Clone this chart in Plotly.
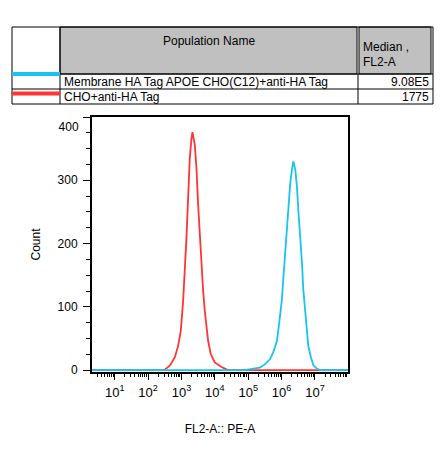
import plotly.graph_objects as go

# histogram data (x as log10 of FL2-A, y as count)
red_log = [0.32, 2.48, 2.65, 2.80, 2.90, 2.98, 3.05, 3.10, 3.15, 3.20, 3.25, 3.30, 3.33,
           3.40, 3.45, 3.50, 3.55, 3.60, 3.65, 3.70, 3.75, 3.80, 3.88, 4.00, 4.20, 4.40, 7.99]
red_count = [0, 0, 7, 20, 38, 62, 109, 156, 209, 272, 335, 366, 376,
             356, 319, 261, 209, 156, 125, 93, 67, 46, 25, 12, 5, 0, 0]

cyan_log = [0.32, 4.90, 5.11, 5.35, 5.50, 5.65, 5.75, 5.86, 5.93, 6.01, 6.05, 6.11, 6.16, 6.20,
            6.26, 6.31, 6.35, 6.41, 6.46, 6.50, 6.56, 6.61, 6.65, 6.71, 6.76, 6.80,
            6.88, 6.95, 7.06, 7.15, 7.99]
cyan_count = [0, 0, 2, 4, 9, 17, 28, 46, 75, 112, 143, 185, 222, 264,
              296, 317, 330, 317, 290, 254, 211, 170, 128, 96, 65, 38,
              20, 8, 2, 0, 0]

populations = ['Membrane HA Tag APOE CHO(C12)+anti-HA Tag', 'CHO+anti-HA Tag']
medians = ['9.08E5', '1775']
colors = ['#19C3F0', '#FF3434']

decades = [1, 2, 3, 4, 5, 6, 7]
y_ticks = [0, 100, 200, 300, 400]

FONT = 'Liberation Sans, Arial, sans-serif'

# the page body adds an 8px margin, so the figure is drawn 8px smaller
OFF = 8
W, H = 446 - OFF, 455 - OFF
# plot area in window pixels: x 92..348, y 117..372
L, R, T, B = 92 - OFF, 348 - OFF, 117 - OFF, 372 - OFF


def px(x):
    return (x - OFF - L) / (R - L)


def py(y):
    return (B - (y - OFF)) / (B - T)


fig = go.Figure()

fig.add_trace(go.Scatter(x=[10 ** v for v in red_log], y=red_count, mode='lines',
                         line=dict(color=colors[1], width=1.8), name=populations[1]))
fig.add_trace(go.Scatter(x=[10 ** v for v in cyan_log], y=cyan_count, mode='lines',
                         line=dict(color=colors[0], width=1.8), name=populations[0]))
# empty trace so the overlay axis (for the "400" label) gets drawn
fig.add_trace(go.Scatter(x=[None], y=[None], yaxis='y2', mode='lines',
                         hoverinfo='skip', showlegend=False))

minor_x = [k * 10 ** d for d in range(0, 9) for k in range(2, 10)]

fig.update_layout(
    width=W, height=H,
    margin=dict(l=L, r=W - R, t=T, b=H - B),
    plot_bgcolor='white', paper_bgcolor='white',
    showlegend=False,
    font=dict(family=FONT, size=12, color='black'),
    xaxis=dict(type='log', range=[0.32, 7.99], automargin=False,
               tickvals=[10 ** d for d in decades],
               ticktext=['10<sup>%d</sup>' % d for d in decades],
               tickfont=dict(size=13),
               ticks='outside', ticklen=6, tickwidth=1, tickcolor='black',
               minor=dict(tickvals=minor_x, ticks='outside', ticklen=3, tickcolor='black'),
               showline=True, linewidth=2, linecolor='black', mirror=True,
               showgrid=False, zeroline=False, ticklabelstandoff=1,
               title=dict(text='FL2-A:: PE-A', standoff=26, font=dict(size=12))),
    yaxis=dict(range=[-3, 400], automargin=False,
               tickvals=y_ticks,
               ticktext=['' if v == 400 else str(v) for v in y_ticks],
               ticks='outside', ticklen=7, tickwidth=1, tickcolor='black',
               minor=dict(dtick=25, ticks='outside', ticklen=4, tickcolor='black'),
               showline=True, linewidth=2, linecolor='black', mirror=True,
               showgrid=False, zeroline=False, ticklabelstandoff=3,
               title=dict(text='Count', standoff=14, font=dict(size=12))),
    # top label sits a little below the frame edge, as in FlowJo
    yaxis2=dict(overlaying='y', anchor='x', range=[-3, 400], side='left', automargin=False,
                tickvals=[384], ticktext=['400'], ticks='outside', ticklen=7,
                tickcolor='rgba(0,0,0,0)', showline=False, showgrid=False,
                zeroline=False, ticklabelstandoff=3),
)

# population table above the plot (window pixel coordinates)
shapes = []
annotations = []
tx0, tx1, ty0, ty1 = 12, 433, 27, 104
col1, col2 = 60, 358
row1, row2 = 74, 89


def rect(x0, y0, x1, y1, fill='rgba(0,0,0,0)', color='black', width=1):
    shapes.append(dict(type='rect', xref='paper', yref='paper',
                       x0=px(x0), x1=px(x1), y0=py(y0), y1=py(y1),
                       fillcolor=fill, line=dict(color=color, width=width), layer='above'))


def hline(x0, x1, y, color='black', width=1):
    shapes.append(dict(type='line', xref='paper', yref='paper',
                       x0=px(x0), x1=px(x1), y0=py(y), y1=py(y),
                       line=dict(color=color, width=width), layer='above'))


def vline(x, y0, y1, color='black', width=1):
    shapes.append(dict(type='line', xref='paper', yref='paper',
                       x0=px(x), x1=px(x), y0=py(y0), y1=py(y1),
                       line=dict(color=color, width=width), layer='above'))


def text(x, y, s, xanchor='left'):
    annotations.append(dict(xref='paper', yref='paper', x=px(x), y=py(y), text=s,
                            showarrow=False, xanchor=xanchor, yanchor='middle',
                            font=dict(family=FONT, size=12, color='black')))


rect(col1, ty0, col2 - 1, row1, fill='#C0C0C0')
rect(col2 + 1, ty0, tx1 - 2, row1, fill='#C0C0C0')
rect(tx0, ty0, tx1, ty1)
hline(tx0, tx1, row1)
hline(tx0, tx1, row2)
vline(col1, ty0, ty1)
vline(col2, row1, ty1)

hline(tx0, col1, 74, color=colors[0], width=4)
hline(tx0, col1, 93.5, color=colors[1], width=4)

text((col1 + col2) / 2, 41.5, 'Population Name', xanchor='center')
text(col2 + 3, 46.5, 'Median ,')
text(col2 + 3, 61.5, 'FL2-A')
for i, (name, med) in enumerate(zip(populations, medians)):
    ymid = [81.5, 96.5][i]
    text(col1 + 2, ymid, name)
    text(tx1 - 2, ymid, med, xanchor='right')

fig.update_layout(shapes=shapes, annotations=annotations)

fig.write_html("out.html")
